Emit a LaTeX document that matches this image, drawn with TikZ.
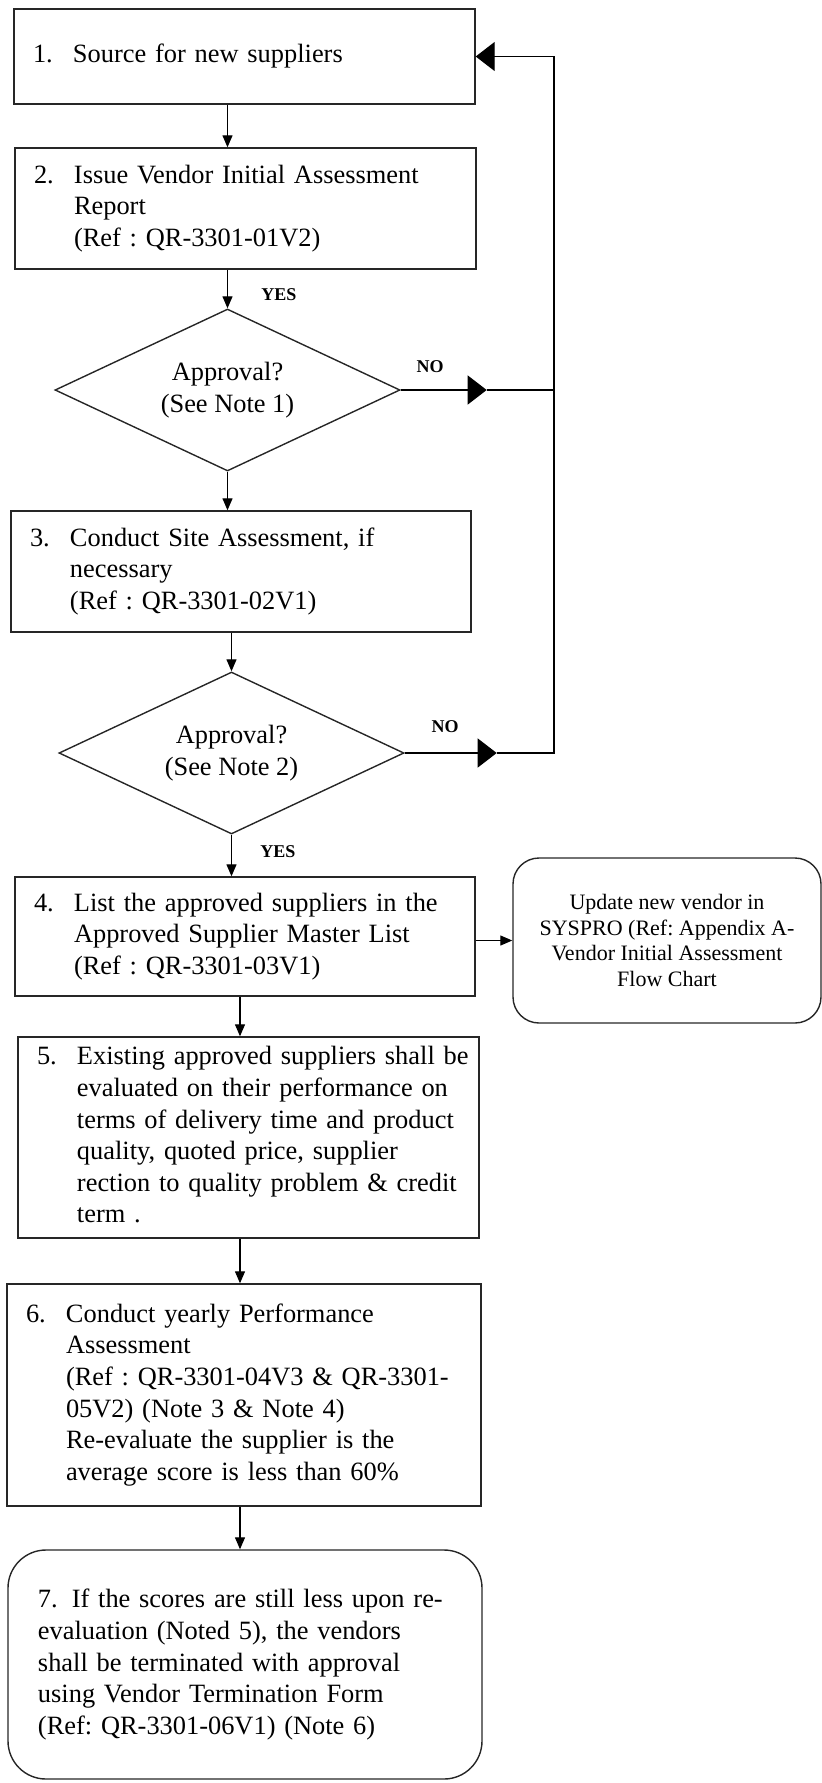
\documentclass[tikz,border=0pt]{standalone}
\usepackage{fontspec}
\setmainfont{Liberation Serif}
\usepackage{tikz}
\usetikzlibrary{shapes.geometric,arrows.meta,positioning}
\frenchspacing
\tikzset{
  basebox/.style={rectangle,draw=black!85,line width=0.7pt,align=left,
                  inner ysep=0pt,font=\fontsize{13.2}{15.8}\selectfont},
  stepbox/.style={basebox,inner xsep=9.5pt},
  endbox/.style={basebox,rounded corners=19pt,inner xsep=15pt},
  sidebox/.style={basebox,rounded corners=13pt,align=center,
                  font=\fontsize{11}{12.75}\selectfont},
  decnode/.style={diamond,draw=black!85,line width=0.7pt,aspect=2.13,
                  align=center,inner sep=0pt,font=\fontsize{13.2}{15.8}\selectfont},
  lbl/.style={font=\fontsize{9}{10}\selectfont\bfseries},
  line/.style={line width=0.6pt},
  arr/.style={-{Triangle[length=6pt,width=5pt]},line width=0.6pt},
  bigarr/.style={-{Triangle[length=9.5pt,width=14.5pt]},line width=0.6pt}
}
\newcommand{\numitem}[2]{\begin{tabular}{@{}p{20pt}@{}l@{}}#1 & #2\end{tabular}}

\begin{document}
\begin{tikzpicture}[x=0.5pt,y=-0.5pt]
  \useasboundingbox (0,0) rectangle (822,1783);

  \node[stepbox,minimum width=230.5pt,minimum height=47.5pt,text width=211.5pt] (n1)
      at (244.5,56.5) {\numitem{1.}{Source for new suppliers}};
  \node[stepbox,minimum width=230.5pt,minimum height=60.5pt,text width=211.5pt] (n2)
      at (245.5,208.5) {\numitem{2.}{Issue Vendor Initial Assessment\\ & Report\\
      & (Ref : QR-3301-01V2)}};
  \node[decnode,minimum width=172.5pt,minimum height=81pt] (d1)
      at (227.5,390) {Approval?\\(See Note 1)};
  \node[stepbox,minimum width=230pt,minimum height=60.5pt,text width=211pt] (n3)
      at (241,571.5) {\numitem{3.}{Conduct Site Assessment, if\\ & necessary\\
      & (Ref : QR-3301-02V1)}};
  \node[decnode,minimum width=172.5pt,minimum height=81pt] (d2)
      at (231.5,753) {Approval?\\(See Note 2)};
  \node[stepbox,minimum width=230pt,minimum height=59.5pt,text width=211pt] (n4)
      at (245,936.5) {\numitem{4.}{List the approved suppliers in the\\
      & Approved Supplier Master List\\ & (Ref : QR-3301-03V1)}};
  \node[sidebox,minimum width=154pt,minimum height=82.5pt] (upd)
      at (667,940.5) {Update new vendor in\\SYSPRO (Ref: Appendix A-\\
      Vendor Initial Assessment\\Flow Chart};
  \node[stepbox,minimum width=230.5pt,minimum height=100.5pt,text width=211.5pt] (n5)
      at (248.5,1137.5) {\numitem{5.}{Existing approved suppliers shall be\\
      & evaluated on their performance on\\ & terms of delivery time and product\\
      & quality, quoted price, supplier\\ & rection to quality problem \& credit\\
      & term .}};
  \node[stepbox,minimum width=237pt,minimum height=111pt,text width=218pt] (n6)
      at (244,1395) {\numitem{6.}{Conduct yearly Performance\\ & Assessment\\
      & (Ref : QR-3301-04V3 \& QR-3301-\\ & 05V2) (Note 3 \& Note 4)\\
      & Re-evaluate the supplier is the\\ & average score is less than 60\%}};
  \node[endbox,minimum width=237pt,minimum height=114.5pt,text width=207pt] (n7)
      at (245,1664.5) {7.\hspace{7pt}If the scores are still less upon re-\\
      evaluation (Noted 5), the vendors\\shall be terminated with approval\\
      using Vendor Termination Form\\(Ref: QR-3301-06V1) (Note 6)};

  \node[lbl] (yes1) at (279,295) {YES};
  \node[lbl] (no1) at (430,367) {NO};
  \node[lbl] (no2) at (445,727) {NO};
  \node[lbl] (yes2) at (278,852) {YES};

  % down the main column
  \coordinate (lane) at (240,0);
  \draw[arr] (n1.south -| d1.north) -- (n2.north -| d1.north);
  \draw[arr] (n2.south -| d1.north) -- (d1.north);
  \draw[arr] (d1.south) -- (n3.north -| d1.south);
  \draw[arr] (n3.south -| d2.north) -- (d2.north);
  \draw[arr] (d2.south) -- (n4.north -| d2.south);
  \foreach \from/\to in {n4/n5,n5/n6,n6/n7}
    \draw[arr] (\from.south -| lane) -- (\to.north -| lane);
  \draw[arr] (n4.east |- upd.west) -- (upd.west);

  % NO branches back to step 1
  \path (d1.east) ++(86,0) coordinate (j1);
  \path (d2.east) ++(92,0) coordinate (j2);
  \coordinate (rail) at (554,56.5);
  \draw[bigarr] (d1.east) -- (j1);
  \draw[line] (j1) -- (j1 -| rail);
  \draw[bigarr] (d2.east) -- (j2);
  \draw[bigarr] (j2) -- (j2 -| rail) -- (rail) -- (n1.east);
\end{tikzpicture}
\end{document}
